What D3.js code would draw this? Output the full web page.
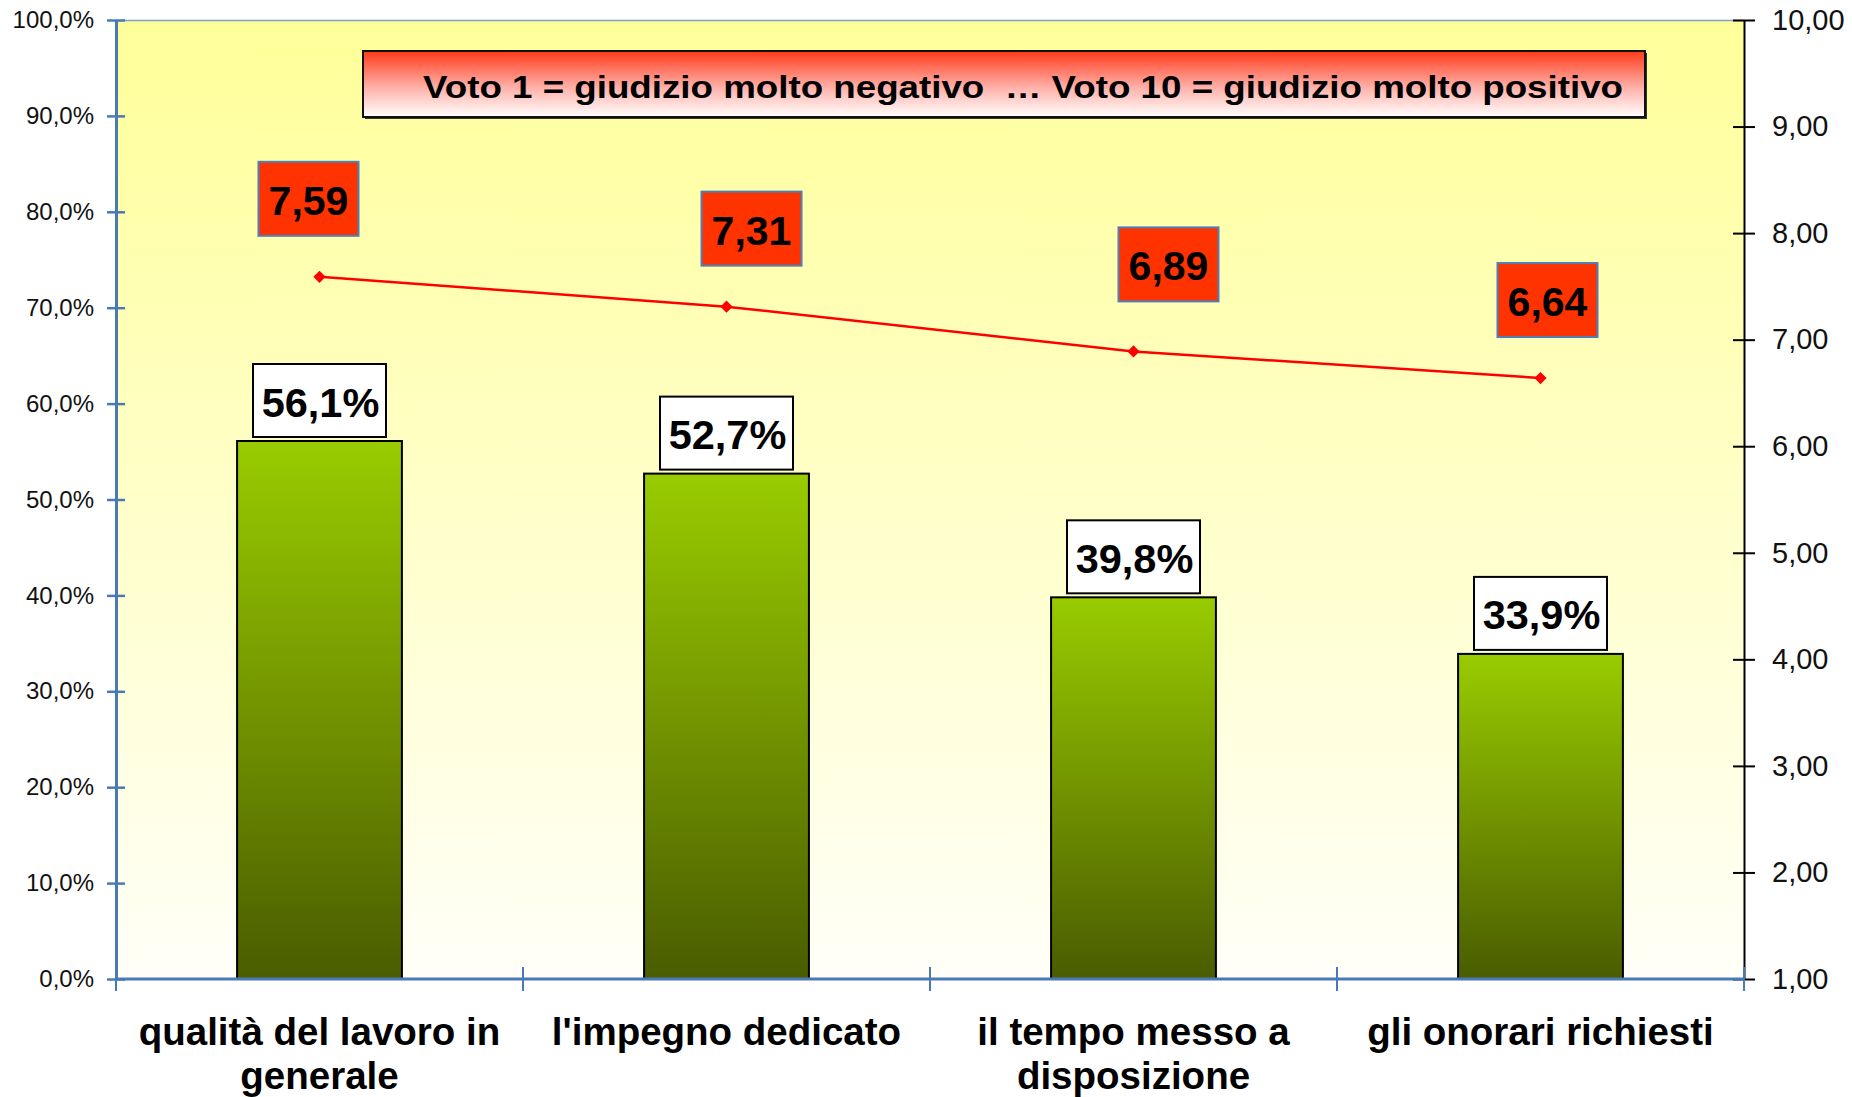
<!DOCTYPE html>
<html>
<head>
<meta charset="utf-8">
<script src="https://cdn.jsdelivr.net/npm/d3@7"></script>
<style>
  html, body { margin: 0; padding: 0; background: #fff; }
  svg { display: block; }
  text { font-family: Arial, "Liberation Sans", sans-serif; }
</style>
</head>
<body>
<div id="chart"></div>
<script>
// values
const categories = ['qualità del lavoro in\ngenerale', "l'impegno dedicato", 'il tempo messo a\ndisposizione', 'gli onorari richiesti'];
const pctValues = [56.1, 52.7, 39.8, 33.9];
const voteValues = [7.59, 7.31, 6.89, 6.64];
const pctTicks = [0, 10, 20, 30, 40, 50, 60, 70, 80, 90, 100];
const voteTicks = [1, 2, 3, 4, 5, 6, 7, 8, 9, 10];
const legendText = 'Voto 1 = giudizio molto negativo  … Voto 10 = giudizio molto positivo';

// label nudges [dx, dy] for the vote boxes, as placed in the original
const voteNudge = [[-11, 0], [25, 0], [35, -9], [7, 0]];

const width = 1852, height = 1097;
const plotLeft = 116, plotRight = 1744, plotTop = 20, plotBottom = 979;

const it = d3.formatLocale({decimal: ',', thousands: '.', grouping: [3], currency: ['', '€']});
const fmtPct = (d) => it.format('.1f')(d) + '%';
const fmtVote = it.format('.2f');

const svg = d3.select('#chart').append('svg').attr('width', width).attr('height', height);
const defs = svg.append('defs');

const bg = defs.append('linearGradient').attr('id', 'bg').attr('x1', 0).attr('y1', 0).attr('x2', 0).attr('y2', 1);
bg.append('stop').attr('offset', '0%').attr('stop-color', '#ffff99');
bg.append('stop').attr('offset', '100%').attr('stop-color', '#fffff8');

const barGrad = defs.append('linearGradient').attr('id', 'bar').attr('x1', 0).attr('y1', 0).attr('x2', 0).attr('y2', 1);
barGrad.append('stop').attr('offset', '0%').attr('stop-color', '#99cc00');
barGrad.append('stop').attr('offset', '100%').attr('stop-color', '#4a5c00');

const legGrad = defs.append('linearGradient').attr('id', 'leg').attr('x1', 0).attr('y1', 0).attr('x2', 0).attr('y2', 1);
legGrad.append('stop').attr('offset', '0%').attr('stop-color', '#ff3a1a');
legGrad.append('stop').attr('offset', '55%').attr('stop-color', '#ffb0a8');
legGrad.append('stop').attr('offset', '100%').attr('stop-color', '#ffffff');

const x = d3.scaleBand()
    .domain(categories)
    .range([plotLeft, plotRight])
    .paddingInner(0.595)
    .paddingOuter(0.2975);

const yPct = d3.scaleLinear().domain([0, 100]).range([plotBottom, plotTop]);
const yVote = d3.scaleLinear().domain([1, 10]).range([plotBottom, plotTop]);

// plot area
svg.append('rect')
    .attr('x', plotLeft).attr('y', plotTop)
    .attr('width', plotRight - plotLeft).attr('height', plotBottom - plotTop)
    .attr('fill', 'url(#bg)');
svg.append('line')
    .attr('x1', plotLeft).attr('x2', plotRight).attr('y1', plotTop + 0.5).attr('y2', plotTop + 0.5)
    .attr('stroke', '#7f9fd0').attr('stroke-width', 1.5);

// bars
svg.selectAll('rect.bar')
    .data(pctValues)
    .enter().append('rect')
    .attr('class', 'bar')
    .attr('x', (d, i) => x(categories[i]))
    .attr('y', (d) => yPct(d))
    .attr('width', x.bandwidth())
    .attr('height', (d) => plotBottom - yPct(d))
    .attr('fill', 'url(#bar)')
    .attr('stroke', '#000')
    .attr('stroke-width', 2);

// left axis
const axisBlue = '#4a7ab5';
const leftAxis = svg.append('g')
    .attr('transform', 'translate(' + plotLeft + ',0)')
    .call(d3.axisLeft(yPct).tickValues(pctTicks).tickFormat(fmtPct).tickSizeInner(9).tickSizeOuter(0).tickPadding(13));
leftAxis.select('.domain').attr('stroke', axisBlue).attr('stroke-width', 3);
leftAxis.selectAll('.tick line').attr('stroke', axisBlue).attr('stroke-width', 2.5).attr('x2', -9).attr('x1', 9);
leftAxis.selectAll('.tick text').attr('font-size', 24).attr('fill', '#111').attr('font-family', 'Arial, "Liberation Sans", sans-serif');

// right axis
const rightAxis = svg.append('g')
    .attr('transform', 'translate(' + plotRight + ',0)')
    .call(d3.axisRight(yVote).tickValues(voteTicks).tickFormat(fmtVote).tickSizeInner(11).tickSizeOuter(0).tickPadding(17));
rightAxis.select('.domain').attr('stroke', '#000').attr('stroke-width', 2);
rightAxis.selectAll('.tick line').attr('stroke', '#000').attr('stroke-width', 2).attr('x1', -11);
rightAxis.selectAll('.tick text').attr('font-size', 29).attr('fill', '#111').attr('font-family', 'Arial, "Liberation Sans", sans-serif');

// bottom axis with ticks between categories
const bottomAxis = svg.append('g');
bottomAxis.append('line')
    .attr('x1', plotLeft).attr('x2', plotRight).attr('y1', plotBottom).attr('y2', plotBottom)
    .attr('stroke', axisBlue).attr('stroke-width', 3);
const bounds = categories.map((c) => x(c) - x.step() * x.paddingInner() / 2).concat([plotRight]);
bounds[0] = plotLeft;
bottomAxis.selectAll('line.sep')
    .data(bounds)
    .enter().append('line')
    .attr('class', 'sep')
    .attr('x1', (d) => d).attr('x2', (d) => d)
    .attr('y1', plotBottom - 12).attr('y2', plotBottom + 12)
    .attr('stroke', axisBlue).attr('stroke-width', 2);

const catLabels = svg.append('g').selectAll('text')
    .data(categories)
    .enter().append('text')
    .attr('x', (d) => x(d) + x.bandwidth() / 2)
    .attr('y', 1045)
    .attr('text-anchor', 'middle')
    .attr('font-size', 38.5)
    .attr('font-weight', 'bold')
    .attr('fill', '#000');
catLabels.each(function (d) {
    const t = d3.select(this);
    d.split('\n').forEach((line, j) => {
        t.append('tspan').attr('x', x(d) + x.bandwidth() / 2).attr('dy', j === 0 ? 0 : 44).text(line);
    });
});

// vote line
const px = (i) => x(categories[i]) + x.bandwidth() / 2;
const line = d3.line()
    .x((d, i) => px(i))
    .y((d) => yVote(d));
svg.append('path')
    .attr('d', line(voteValues))
    .attr('fill', 'none')
    .attr('stroke', '#ff0000')
    .attr('stroke-width', 2.5);
svg.selectAll('path.marker')
    .data(voteValues)
    .enter().append('path')
    .attr('class', 'marker')
    .attr('d', d3.symbol().type(d3.symbolDiamond2).size(95))
    .attr('transform', (d, i) => 'translate(' + px(i) + ',' + yVote(d) + ')')
    .attr('fill', '#ff0000');

// percent labels
const pctW = 133, pctH = 73;
const pctLab = svg.selectAll('g.pct')
    .data(pctValues)
    .enter().append('g')
    .attr('class', 'pct')
    .attr('transform', (d, i) => 'translate(' + px(i) + ',' + (yPct(d) - 4 - pctH) + ')');
pctLab.append('rect')
    .attr('x', -pctW / 2).attr('y', 0).attr('width', pctW).attr('height', pctH)
    .attr('fill', '#fff').attr('stroke', '#000').attr('stroke-width', 2);
pctLab.append('text')
    .attr('x', 1).attr('y', pctH / 2 + 16)
    .attr('text-anchor', 'middle')
    .attr('font-size', 41.5).attr('font-weight', 'bold')
    .text(fmtPct);

// vote labels
const voteW = 100, voteH = 74;
const voteLab = svg.selectAll('g.vote')
    .data(voteValues)
    .enter().append('g')
    .attr('class', 'vote')
    .attr('transform', (d, i) => 'translate(' + (px(i) + voteNudge[i][0]) + ',' + (yVote(d) - 41 - voteH + voteNudge[i][1]) + ')');
voteLab.append('rect')
    .attr('x', -voteW / 2).attr('y', 0).attr('width', voteW).attr('height', voteH)
    .attr('fill', '#ff3300').attr('stroke', '#4f7fb8').attr('stroke-width', 2);
voteLab.append('text')
    .attr('x', 0).attr('y', voteH / 2 + 16)
    .attr('text-anchor', 'middle')
    .attr('font-size', 41).attr('font-weight', 'bold')
    .text(fmtVote);

// legend box
const leg = svg.append('g');
leg.append('rect')
    .attr('x', 365).attr('y', 53).attr('width', 1282).attr('height', 66)
    .attr('fill', '#333');
leg.append('rect')
    .attr('x', 363).attr('y', 51).attr('width', 1282).attr('height', 66)
    .attr('fill', 'url(#leg)').attr('stroke', '#111').attr('stroke-width', 2);
leg.append('text')
    .attr('x', 423).attr('y', 98)
    .attr('font-family', '"Open Sans", "Noto Sans", sans-serif')
    .attr('font-weight', 'bold')
    .attr('font-size', 32)
    .attr('fill', '#000')
    .attr('textLength', 1200)
    .attr('lengthAdjust', 'spacingAndGlyphs')
    .style('white-space', 'pre')
    .text(legendText);
</script>
</body>
</html>
